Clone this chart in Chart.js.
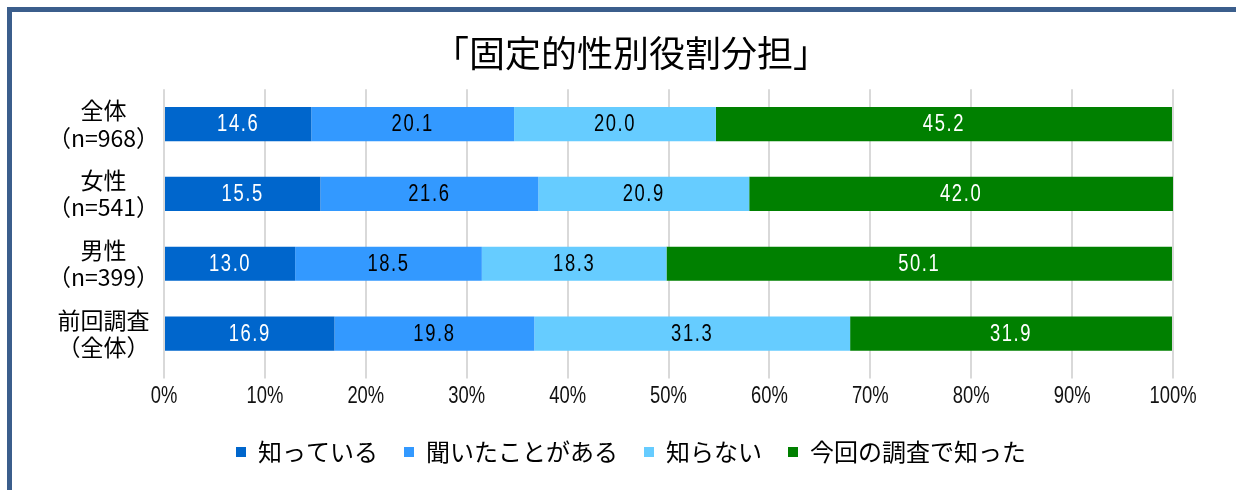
<!DOCTYPE html>
<html>
<head>
<meta charset="utf-8">
<script src="https://cdn.jsdelivr.net/npm/chart.js@4"></script>
<style>
  html, body { margin: 0; padding: 0; background: #fff; }
  .wrap { position: relative; width: 1236px; height: 490px; overflow: hidden; }
  .frame { position: absolute; left: 7px; top: 7px; width: 1300px; height: 600px;
           border-left: 5px solid #3b5e8c; border-top: 5px solid #3b5e8c; }
  canvas { position: absolute; left: 0; top: 0; }
</style>
</head>
<body>
<div class="wrap">
  <div class="frame"></div>
  <canvas id="c" width="1236" height="490"></canvas>
</div>
<script>
// categories (two-line labels)
const categories = [
    ['全体', '（n=968）'],
    ['女性', '（n=541）'],
    ['男性', '（n=399）'],
    ['前回調査', '（全体）']
];
const seriesNames = ['知っている', '聞いたことがある', '知らない', '今回の調査で知った'];
const knows      = [14.6, 15.5, 13.0, 16.9];
const heard      = [20.1, 21.6, 18.5, 19.8];
const dontKnow   = [20.0, 20.9, 18.3, 31.3];
const learnedNow = [45.2, 42.0, 50.1, 31.9];
const xTicks = [0, 10, 20, 30, 40, 50, 60, 70, 80, 90, 100];

const colors = ['#0066cc', '#3399ff', '#66ccff', '#008000'];
const labelColors = ['#ffffff', '#000000', '#000000', '#ffffff'];

const sans = '"Liberation Sans", Arial, sans-serif';
const jp = '"Noto Sans CJK JP", sans-serif';
const squeeze = 0.8; // the original uses a condensed face

function narrowText(ctx, text, x, y) {
    ctx.save();
    ctx.translate(x, y);
    ctx.scale(squeeze, 1);
    ctx.fillText(text, 0, 0);
    ctx.restore();
}

// value in the middle of each bar segment, and the % tick labels
const textLayer = {
    id: 'textLayer',
    afterLayout(chart) {
        // centre title and legend on the same span as the original
        const a = chart.chartArea;
        chart.legend.left = 89;
        chart.legend.right = a.right;
        chart.titleBlock.left = 89;
        chart.titleBlock.right = a.right;
    },
    afterDatasetsDraw(chart) {
        const ctx = chart.ctx;
        ctx.save();
        ctx.font = '23px ' + sans;
        ctx.textAlign = 'center';
        ctx.textBaseline = 'middle';
        ctx.letterSpacing = '2px';
        chart.data.datasets.forEach((ds, i) => {
            const meta = chart.getDatasetMeta(i);
            meta.data.forEach((bar, j) => {
                ctx.fillStyle = labelColors[i];
                narrowText(ctx, ds.data[j].toFixed(1), (bar.x + bar.base) / 2, bar.y + 1);
            });
        });
        ctx.letterSpacing = '0px';
        const xs = chart.scales.x;
        ctx.fillStyle = '#111';
        xTicks.forEach(v => {
            narrowText(ctx, v + '%', xs.getPixelForValue(v), xs.top + 28);
        });
        ctx.restore();
    }
};

const seriesData = [knows, heard, dontKnow, learnedNow];

new Chart(document.getElementById('c'), {
    type: 'bar',
    data: {
        labels: categories,
        datasets: seriesNames.map((name, i) => ({
            label: name,
            data: seriesData[i],
            backgroundColor: colors[i],
            borderWidth: 0,
            barPercentage: 0.49,
            categoryPercentage: 1
        }))
    },
    options: {
        indexAxis: 'y',
        responsive: false,
        animation: false,
        layout: {
            padding: { left: 0, right: 63, top: 0, bottom: 16 }
        },
        plugins: {
            title: {
                display: true,
                text: '「固定的性別役割分担」',
                color: '#000',
                font: { family: jp, size: 36, weight: 'normal' },
                padding: { top: 32, bottom: 14 }
            },
            legend: {
                position: 'bottom',
                labels: {
                    boxWidth: 10,
                    boxHeight: 10,
                    padding: 26,
                    color: '#000',
                    font: { family: jp, size: 24 }
                }
            },
            tooltip: { enabled: false }
        },
        scales: {
            x: {
                stacked: true,
                min: 0,
                max: 100,
                afterBuildTicks(scale) {
                    scale.ticks = xTicks.map(v => ({ value: v }));
                },
                afterFit(scale) { scale.height = 45.5; },
                grid: { color: '#d9d9d9', lineWidth: 2, tickLength: 10 },
                border: { display: false },
                ticks: {
                    color: 'rgba(0,0,0,0)',
                    padding: 4,
                    maxRotation: 0,
                    font: { family: sans, size: 12 },
                    callback: v => v + '%'
                }
            },
            y: {
                stacked: true,
                afterFit(scale) { scale.width = 164; },
                grid: { display: false, drawTicks: false },
                border: { display: false },
                ticks: {
                    color: '#000',
                    crossAlign: 'center',
                    padding: 5,
                    font: { family: jp, size: 23, lineHeight: 1.2 }
                }
            }
        }
    },
    plugins: [textLayer]
});
</script>
</body>
</html>
